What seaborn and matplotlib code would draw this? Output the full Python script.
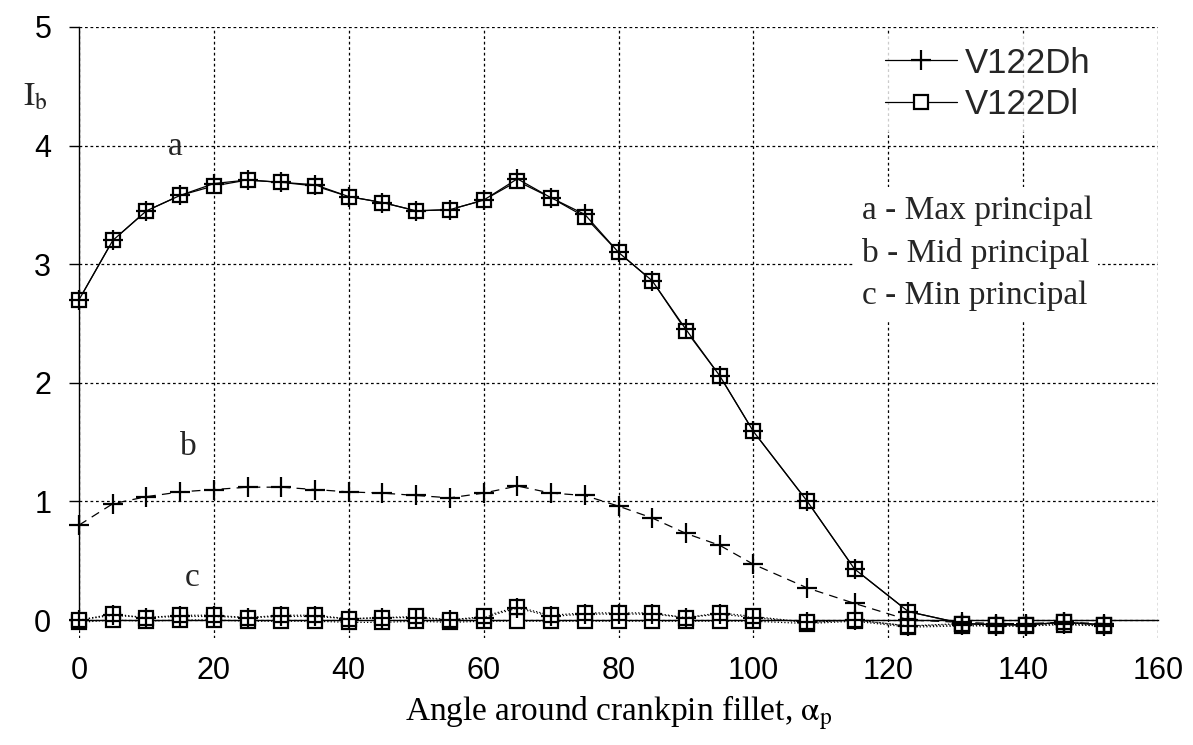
import numpy as np
import pandas as pd
import matplotlib
matplotlib.use("Agg")
import matplotlib.pyplot as plt
import seaborn as sns

# ---------------- data ----------------
angle = [0, 5, 10, 15, 20, 25, 30, 35, 40, 45, 50, 55, 60, 65, 70, 75, 80, 85,
         90, 95, 100, 108, 115, 123, 131, 136, 140.5, 146, 152]

dh_max = [2.70, 3.20, 3.45, 3.58, 3.68, 3.71, 3.69, 3.67, 3.57, 3.52, 3.45, 3.46,
          3.54, 3.72, 3.56, 3.42, 3.10, 2.86, 2.45, 2.06, 1.59, 1.00, 0.43, 0.07,
          -0.03, -0.04, -0.04, -0.02, -0.04]
dl_max = [2.70, 3.20, 3.45, 3.58, 3.66, 3.71, 3.69, 3.66, 3.57, 3.52, 3.45, 3.46,
          3.54, 3.70, 3.56, 3.40, 3.10, 2.86, 2.44, 2.06, 1.59, 1.00, 0.43, 0.07,
          -0.03, -0.04, -0.04, -0.02, -0.04]

dh_mid = [0.80, 0.98, 1.04, 1.08, 1.10, 1.12, 1.12, 1.10, 1.08, 1.07, 1.05, 1.03,
          1.07, 1.13, 1.07, 1.05, 0.96, 0.86, 0.73, 0.63, 0.47, 0.27, 0.14, 0.00,
          -0.02, -0.03, -0.03, -0.02, -0.03]
dl_mid = [0.00, 0.05, 0.02, 0.04, 0.04, 0.02, 0.04, 0.04, 0.01, 0.02, 0.03, 0.00,
          0.03, 0.11, 0.04, 0.06, 0.06, 0.06, 0.02, 0.06, 0.03, -0.02, 0.00, -0.05,
          -0.03, -0.04, -0.04, -0.02, -0.04]

dh_min = [0.00, 0.04, 0.02, 0.03, 0.03, 0.02, 0.03, 0.03, 0.01, 0.02, 0.02, 0.00,
          0.02, 0.10, 0.03, 0.05, 0.05, 0.05, 0.02, 0.05, 0.02, -0.02, 0.00, -0.05,
          -0.04, -0.05, -0.05, -0.03, -0.05]
dl_min = [-0.02, 0.00, -0.01, 0.00, 0.00, -0.01, -0.01, -0.01, -0.02, -0.02, -0.01,
          -0.02, -0.01, -0.01, -0.01, -0.01, -0.01, -0.01, -0.01, -0.01, -0.01, -0.03,
          -0.01, -0.06, -0.05, -0.05, -0.05, -0.04, -0.05]

x_ticks = [0, 20, 40, 60, 80, 100, 120, 140, 160]
y_ticks = [0, 1, 2, 3, 4, 5]

# ---------------- style ----------------
sns.set_theme(style="white")
plt.rcParams["font.family"] = ["Liberation Sans", "DejaVu Sans"]
plt.rcParams["mathtext.fontset"] = "stix"
SERIF = ["Liberation Serif", "DejaVu Serif"]

fig = plt.figure(figsize=(11.93, 7.45), dpi=100)
W, H = 1193, 745
x0_px, x1_px = 79, 1158
y5_px, y0_px = 27, 620
ppu = (y0_px - y5_px) / 5.0
ymin = -0.15
bottom_px = y0_px - ymin * ppu
ax = fig.add_axes([x0_px / W, 1 - bottom_px / H, (x1_px - x0_px) / W,
                   (bottom_px - y5_px) / H])
ax.set_facecolor("white")

grid_style = dict(color="black", linewidth=0.9, linestyle=(0, (2.2, 2.2)))

def draw(y, marker, ls, label, ms, mfc, z):
    sns.lineplot(x=angle, y=y, ax=ax, color="black", marker=marker, linestyle=ls,
                 linewidth=0.9, markersize=ms, markerfacecolor=mfc,
                 markeredgecolor="black", markeredgewidth=1.6, clip_on=False,
                 label=label, zorder=z, sort=False)

# V122Dl (squares) first, V122Dh (+) on top
draw(dl_min, "s", ":", "_nolegend_", 10, "white", 3)
draw(dl_mid, "s", ":", "_nolegend_", 10, "white", 3)
draw(dl_max, "s", "-", "V122Dl", 10, "white", 3)
draw(dh_min, "+", ":", "_nolegend_", 14, "none", 4)
draw(dh_mid, "+", (0, (7, 5)), "_nolegend_", 14, "none", 4)
draw(dh_max, "+", "-", "V122Dh", 14, "none", 4)

ax.set_xlim(0, 160)
ax.set_ylim(ymin, 5)
ax.set_xticks(x_ticks)
ax.set_yticks(y_ticks)
ax.grid(True, **grid_style)
ax.set_axisbelow(True)

for s in ["top", "right"]:
    ax.spines[s].set_visible(False)
ax.spines["bottom"].set_position(("data", 0))
ax.spines["left"].set_bounds(0, 5)
for s in ["bottom", "left"]:
    ax.spines[s].set_color("black")
    ax.spines[s].set_linewidth(1.0)

ax.tick_params(axis="y", direction="out", length=7, width=1, pad=13,
               labelsize=22, colors="black", left=True)
ax.tick_params(axis="x", direction="out", length=0, width=1, pad=26,
               labelsize=22, colors="black", bottom=True)

ax.set_xlabel(r"Angle around crankpin fillet, $\mathrm{\alpha}_{\mathrm{p}}$",
              family=SERIF, fontsize=24, labelpad=5, color="black")
ax.set_ylabel("")
fig.text(35 / W, 1 - 97 / H, r"$\mathrm{I}_{\mathrm{b}}$", fontsize=24,
         ha="center", va="center")

# curve annotations
ax.text(14.2, 3.99, "a", family=SERIF, fontsize=24, ha="center", va="center")
ax.text(16.2, 1.46, "b", family=SERIF, fontsize=24, ha="center", va="center")
ax.text(16.8, 0.36, "c", family=SERIF, fontsize=24, ha="center", va="center")

# principal explanation texts
box = dict(facecolor="white", edgecolor="none", pad=6)
for yv, txt in [(3.45, "a - Max principal"), (3.09, "b - Mid principal"),
                (2.73, "c - Min principal")]:
    ax.text(116.1, yv, txt, family=SERIF, fontsize=24, ha="left", va="center",
            bbox=box, zorder=5)

handles, labels = ax.get_legend_handles_labels()
order = [labels.index("V122Dh"), labels.index("V122Dl")]
leg = ax.legend([handles[i] for i in order], [labels[i] for i in order],
                loc="upper left", bbox_to_anchor=(0.737, 0.985), frameon=True,
                fontsize=25, handlelength=2.07, handletextpad=0.25,
                labelspacing=0.25, borderpad=0.3, borderaxespad=0,
                fancybox=False)
leg.get_frame().set_facecolor("white")
leg.get_frame().set_edgecolor("none")
leg.set_zorder(6)

fig.savefig("out.png", dpi=100, facecolor="white")
